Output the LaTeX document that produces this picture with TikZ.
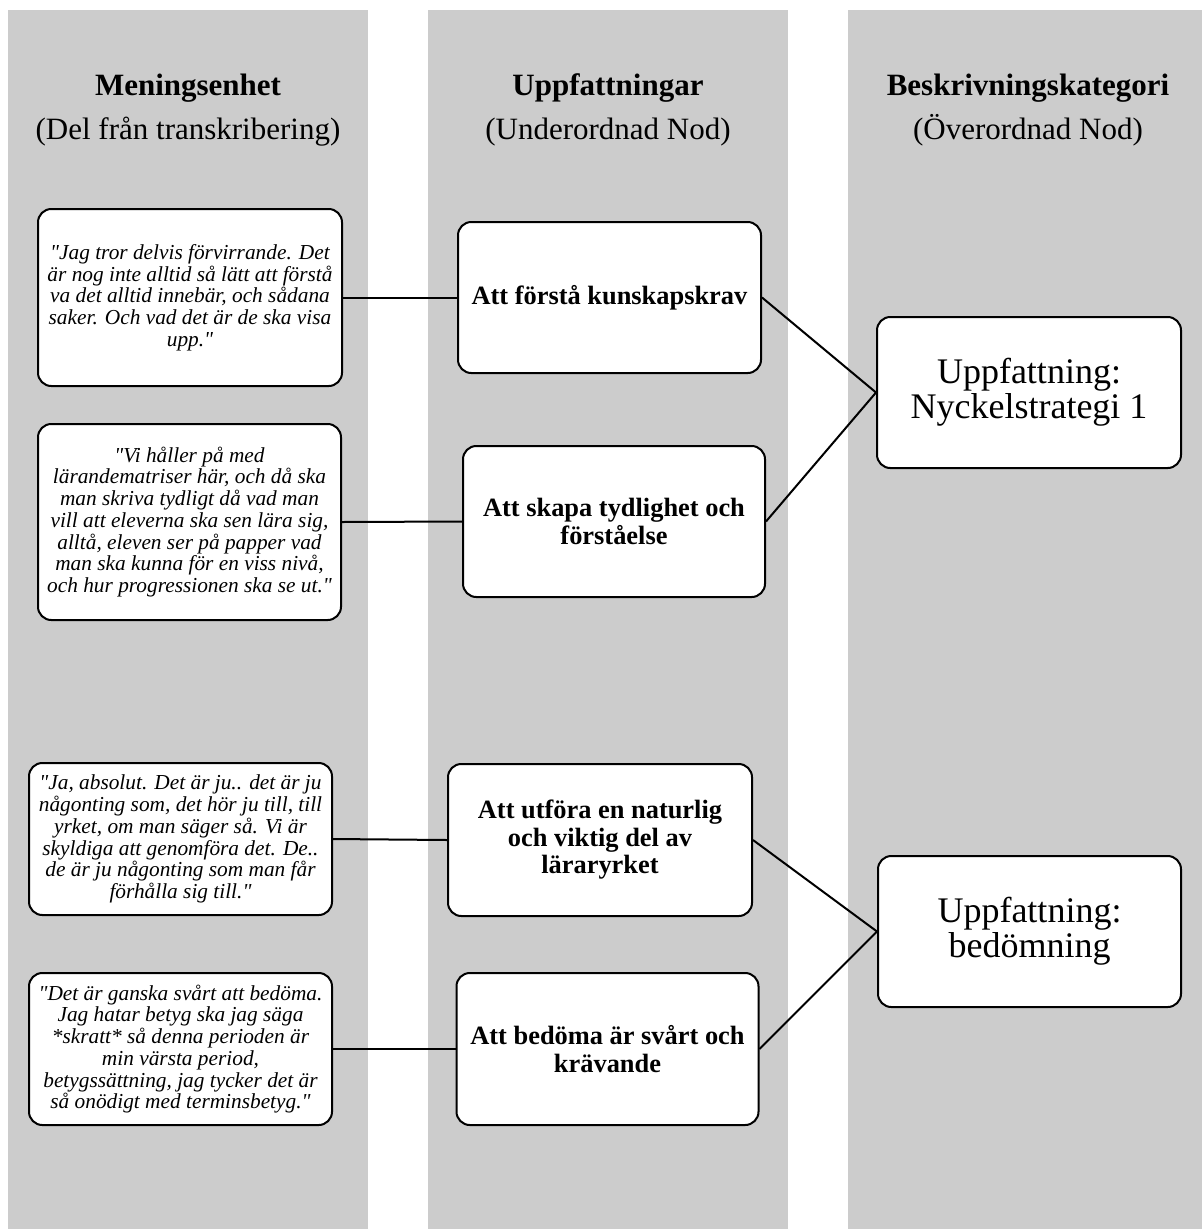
\documentclass[tikz,border=0pt]{standalone}
\usepackage{fontspec}
\setmainfont{Liberation Serif}
\definecolor{colgray}{RGB}{204,204,204}
\newcommand{\dq}{\textquotedbl{}}
\begin{document}
\begin{tikzpicture}[x=0.75pt,y=-0.75pt,
  box/.style={draw, line width=1.5pt, rounded corners=10pt, fill=white, align=center, inner sep=0pt},
  quote/.style={box, font=\fontsize{16}{16.3}\selectfont\itshape},
  mid/.style={box, font=\fontsize{19.8}{20.6}\selectfont\bfseries},
  cat/.style={box, font=\fontsize{27}{26.25}\selectfont},
  head/.style={anchor=base, inner sep=0pt, font=\fontsize{23.25}{28}\selectfont},
  conn/.style={line width=1.5pt}]
\useasboundingbox (0,0) rectangle (1202,1229);
% columns
\fill[colgray] (8,10) rectangle (368,1229);
\fill[colgray] (428,10) rectangle (788,1229);
\fill[colgray] (848,10) rectangle (1202,1229);
% headers
\node[head, font=\fontsize{23.25}{28}\selectfont\bfseries] (h1) at (188,95.5) {Meningsenhet};
\node[head] (s1) at (188,139) {(Del från transkribering)};
\node[head, font=\fontsize{23.25}{28}\selectfont\bfseries] (h2) at (608,95.5) {Uppfattningar};
\node[head] (s2) at (608,139) {(Underordnad Nod)};
\node[head, font=\fontsize{23.25}{28}\selectfont\bfseries] (h3) at (1028,95.5) {Beskrivningskategori};
\node[head] (s3) at (1028,139) {(Överordnad Nod)};
% quote boxes
\node[quote, minimum width=228pt, minimum height=132.75pt] (q1) at (190,297.5)
  {\dq Jag tror delvis förvirrande. Det\\är nog inte alltid så lätt att förstå\\va det alltid innebär, och sådana\\saker. Och vad det är de ska visa\\upp.\dq};
\node[quote, minimum width=227.25pt, minimum height=147pt] (q2) at (189.5,522)
  {\dq Vi håller på med\\lärandematriser här, och då ska\\man skriva tydligt då vad man\\vill att eleverna ska sen lära sig,\\alltå, eleven ser på papper vad\\man ska kunna för en viss nivå,\\och hur progressionen ska se ut.\dq};
\node[quote, minimum width=227.25pt, minimum height=114pt] (q3) at (180.5,839)
  {\dq Ja, absolut. Det är ju.. det är ju\\någonting som, det hör ju till, till\\yrket, om man säger så. Vi är\\skyldiga att genomföra det. De..\\de är ju någonting som man får\\förhålla sig till.\dq};
\node[quote, minimum width=227.25pt, minimum height=114pt] (q4) at (180.5,1049)
  {\dq Det är ganska svårt att bedöma.\\Jag hatar betyg ska jag säga\\*skratt* så denna perioden är\\min värsta period,\\betygssättning, jag tycker det är\\så onödigt med terminsbetyg.\dq};
% middle boxes
\node[mid, minimum width=227.25pt, minimum height=113.25pt] (m1) at (609.5,297.5) {Att förstå kunskapskrav};
\node[mid, minimum width=226.5pt, minimum height=113.25pt] (m2) at (614,521.5) {Att skapa tydlighet och\\förståelse};
\node[mid, minimum width=228pt, minimum height=114pt] (m3) at (600,840) {Att utföra en naturlig\\och viktig del av\\läraryrket};
\node[mid, minimum width=226.5pt, minimum height=114pt] (m4) at (607.5,1049) {Att bedöma är svårt och\\krävande};
% category boxes
\node[cat, minimum width=228pt, minimum height=113.25pt] (r1) at (1029,392.5) {Uppfattning:\\Nyckelstrategi 1};
\node[cat, minimum width=227.25pt, minimum height=113.25pt] (r2) at (1029.5,931.5) {Uppfattning:\\bedömning};
% connectors
\draw[conn] (q1.east) -- (m1.west);
\draw[conn] (q2.east) -- (m2.west);
\draw[conn] (q3.east) -- (m3.west);
\draw[conn] (q4.east) -- (m4.west);
\draw[conn] (m1.east) -- (r1.west);
\draw[conn] (m2.east) -- (r1.west);
\draw[conn] (m3.east) -- (r2.west);
\draw[conn] (m4.east) -- (r2.west);
\end{tikzpicture}
\end{document}
